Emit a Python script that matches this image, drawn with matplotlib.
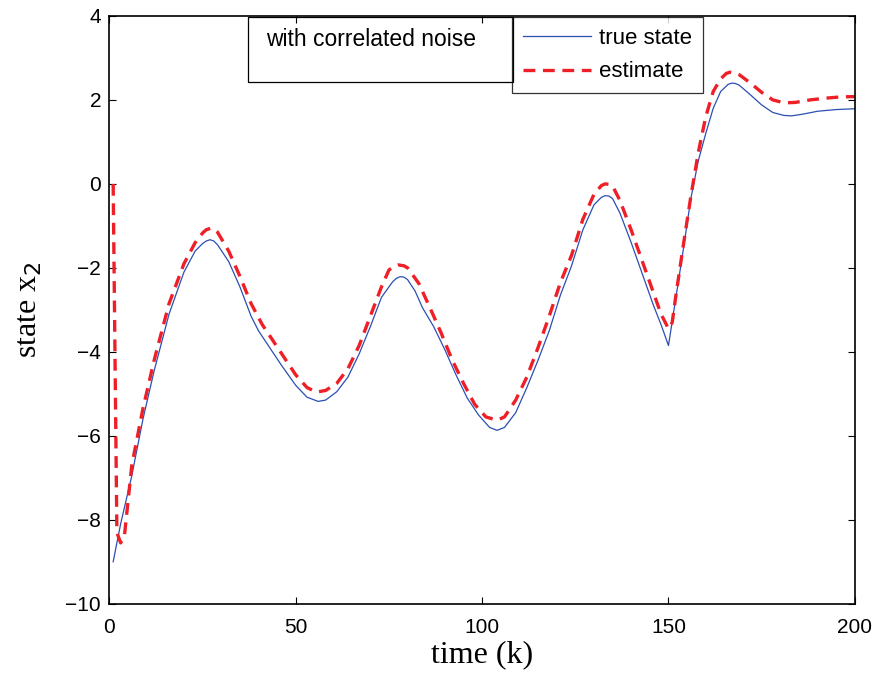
import matplotlib
matplotlib.use("Agg")
import matplotlib.pyplot as plt
from matplotlib.lines import Line2D

plt.rcParams['lines.scale_dashes'] = False

# ---- data ----
k_true = [1, 3, 6, 9, 12, 16, 20, 23, 25, 26, 27, 28, 29, 32, 35, 38, 40, 43, 46, 50, 53, 56,
          58, 61, 64, 67, 70, 73, 76, 77, 78, 79, 80, 82, 84, 87, 90, 93, 96, 99, 102, 104, 106,
          109, 112, 115, 118, 121, 124, 127, 130, 132, 133, 134, 135, 137, 140, 143, 146, 148, 150,
          152, 154, 156, 158, 160, 162, 164, 166, 167, 168, 169, 172, 175, 178, 181, 183, 186, 190,
          195, 200]
x_true = [-9.0, -8.1, -6.95, -5.6, -4.45, -3.1, -2.1, -1.6, -1.42, -1.36, -1.33, -1.36, -1.45, -1.85,
          -2.45, -3.15, -3.5, -3.9, -4.3, -4.8, -5.08, -5.18, -5.15, -4.95, -4.6, -4.05,
          -3.4, -2.7, -2.33, -2.25, -2.21, -2.22, -2.28, -2.55, -2.95, -3.4, -3.95, -4.55, -5.1, -5.5,
          -5.8, -5.87, -5.8, -5.45, -4.85, -4.2, -3.5, -2.65, -1.95, -1.1, -0.5, -0.32, -0.28, -0.29,
          -0.35, -0.7, -1.4, -2.15, -2.9, -3.35, -3.85, -2.7, -1.55, -0.35, 0.55, 1.2,
          1.8, 2.2, 2.37, 2.4, 2.39, 2.35, 2.12, 1.88, 1.7, 1.63, 1.62, 1.66, 1.73, 1.77, 1.79]

k_est = [1, 2, 3, 4, 6, 9, 12, 16, 20, 23, 25, 26, 27.5, 29, 32, 35, 38, 41, 44, 47, 50, 53,
         55.5, 58, 61, 64, 67, 70, 73, 75, 76.5, 77.5, 79, 80, 83, 86, 89, 92, 95, 98, 101, 104,
         106, 109, 112, 115, 118, 121, 124, 127, 130, 132, 133, 134, 135, 137, 140, 143, 146, 148,
         150, 151, 152, 154, 156, 158, 160, 162, 164, 165.5, 166.5, 168, 169, 172, 175, 178, 181,
         184, 188, 192, 196, 200]
x_est = [0.0, -8.3, -8.55, -8.4, -6.7, -5.35, -4.2, -2.85, -1.9, -1.4, -1.17, -1.09, -1.05,
         -1.15, -1.6, -2.2, -2.85, -3.35, -3.75, -4.15, -4.55, -4.85, -4.96, -4.92, -4.75,
         -4.4, -3.85, -3.15, -2.45, -2.05, -1.96, -1.93, -1.95, -2.0, -2.37, -2.95, -3.55, -4.2, -4.75,
         -5.25, -5.55, -5.63, -5.55, -5.15, -4.6, -3.9, -3.15, -2.35, -1.7, -0.85, -0.25, -0.04,
         0.0, -0.01, -0.05, -0.4, -1.1, -1.85, -2.6, -3.1, -3.45, -3.3, -2.65, -1.45, -0.3, 0.75,
         1.6, 2.2, 2.5, 2.63, 2.66, 2.64, 2.6, 2.4, 2.18, 2.0, 1.93, 1.94, 2.0, 2.04, 2.07, 2.08]

xticks = [0, 50, 100, 150, 200]
yticks = [-10, -8, -6, -4, -2, 0, 2, 4]

blue = '#2b4fb3'
red = '#ee1f26'

fig = plt.figure(figsize=(8.79, 6.78), dpi=100)
ax = fig.add_axes([0.1245, 0.1095, 0.848, 0.867])

ax.plot(k_true, x_true, color=blue, lw=0.9)
ax.plot(k_est, x_est, color=red, lw=2.4, dashes=(8.5, 5.5))

ax.set_xlim(0, 200)
ax.set_ylim(-10, 4)
ax.set_xticks(xticks)
ax.set_yticks(yticks)
ax.set_yticklabels([str(t).replace('-', '\u2212') for t in yticks])
ax.tick_params(direction='in', top=True, right=True, length=5, width=0.8,
               labelsize=15)
ax.tick_params(axis='x', pad=10)
ax.tick_params(axis='y', pad=6)
for lab in ax.get_xticklabels() + ax.get_yticklabels():
    lab.set_family('Liberation Sans')
for s in ax.spines.values():
    s.set_linewidth(1.2)

ax.set_xlabel('time (k)', family='Liberation Serif', fontsize=23)
ax.set_ylabel('state x$_2$', family='Liberation Serif', fontsize=23)
ax.xaxis.set_label_coords(0.5, -0.062)
ax.yaxis.set_label_coords(-0.088, 0.5)

# annotation box
fig.patches.append(plt.Rectangle((248 / 879, 1 - 82 / 678), (513 - 248) / 879, (82 - 17) / 678,
                                 transform=fig.transFigure, fill=False, edgecolor='black',
                                 lw=0.9, zorder=5))
fig.text(266 / 879, 1 - 39 / 678, 'with correlated noise', family='Liberation Sans',
         fontsize=16.5, va='center', ha='left')

# legend box
handles = [Line2D([], [], color=blue, lw=0.9),
           Line2D([], [], color=red, lw=2.4, dashes=(8.5, 5.5))]
leg = ax.legend(handles, ['true state', 'estimate'], loc='upper left',
                bbox_to_anchor=(512 / 879, 1 - 17 / 678), bbox_transform=fig.transFigure,
                prop={'family': 'Liberation Sans', 'size': 16}, frameon=True,
                fancybox=False, edgecolor='black', handlelength=3.06, handletextpad=0.36,
                borderpad=0.5, labelspacing=0.55, borderaxespad=0)
leg.get_frame().set_linewidth(0.9)

fig.savefig('out.png', dpi=100)
